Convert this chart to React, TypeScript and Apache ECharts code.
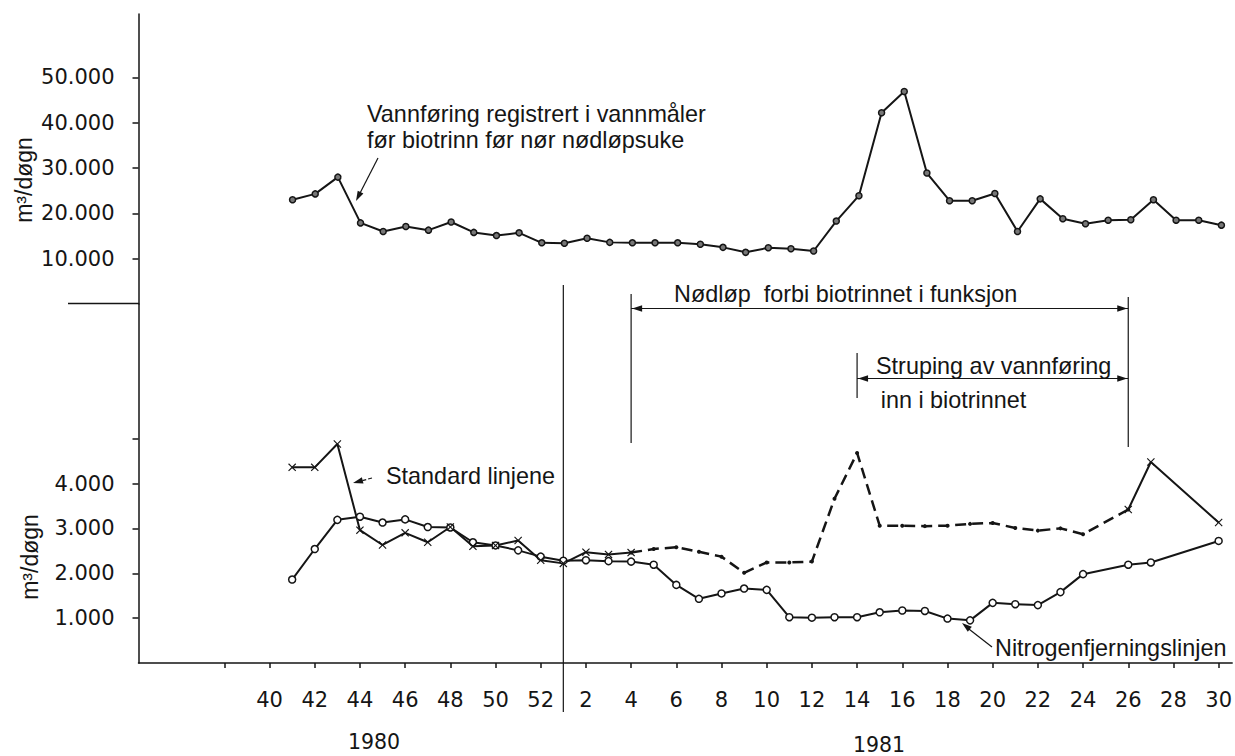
import React, { useEffect, useRef } from 'react';
import * as echarts from 'echarts';

// Week labels (1980 weeks 41-52, then 1981 weeks 1-30)
const weeks = ['41', '42', '43', '44', '45', '46', '47', '48', '49', '50', '51', '52',
  '1', '2', '3', '4', '5', '6', '7', '8', '9', '10', '11', '12', '13', '14', '15',
  '16', '17', '18', '19', '20', '21', '22', '23', '24', '25', '26', '27', '28', '29', '30'];

// Vannføring (m3/døgn), upper panel
const flow = [23000, 24300, 28000, 17900, 16000, 17100, 16300, 18100, 15800, 15100, 15700, 13500,
  13400, 14500, 13600, 13500, 13500, 13500, 13200, 12500, 11400, 12400, 12200, 11700, 18300, 23900, 42200,
  46900, 28900, 22800, 22800, 24400, 16000, 23200, 18800, 17700, 18500, 18600, 23000, 18500, 18500, 17400];

// Nitrogenfjerningslinjen (m3/døgn), lower panel
const nitrogen = [1860, 2540, 3190, 3260, 3130, 3200, 3030, 3020, 2690, 2620, 2510, 2370,
  2280, 2290, 2270, 2260, 2190, 1740, 1430, 1550, 1660, 1630, 1020, 1010, 1020, 1020, 1130,
  1170, 1160, 990, 950, 1340, 1310, 1290, 1580, 1980, null, 2190, 2240, null, null, 2720];

// Standard linjene (m3/døgn), lower panel
const standard = [4360, 4360, 4880, 2960, 2630, 2900, 2690, 3030, 2600, 2620, 2730, 2290,
  2220, 2470, 2420, 2460, 2540, 2580, 2480, 2370, 2010, 2240, 2240, 2260, 3660, 4680, 3060,
  3060, 3050, 3060, 3100, 3120, 3010, 2950, 3000, 2870, null, 3420, 4480, null, null, 3130];

const dashedFromWeek = '4';
const dashedToWeek = '26';
const strupingFromWeek = '14';
const yearStartWeek = '1';

const upperTicks = [10000, 20000, 30000, 40000, 50000];
const lowerTicks = [1000, 2000, 3000, 4000, 5000];
const lowerLabels = [1000, 2000, 3000, 4000];

const INK = '#151515';
const NUM_FONT = 'DejaVu Sans';
const TXT_FONT = 'Liberation Sans';

const pos = (i: number) => i + 1;
const weekPos = (w: string) => pos(weeks.indexOf(w));
const weekLabel = (v: number) => (v <= 12 ? String(40 + v) : String(v - 12));
const thousands = (v: number) => `${Math.round(v / 1000)}.000`;

const pairs = (arr: (number | null)[], from = 0, to = arr.length - 1) =>
  arr
    .map((v, i) => [pos(i), v] as [number, number | null])
    .slice(from, to + 1)
    .filter((p) => p[1] != null);

const CROSS = 'path://M0,1L1,0L5,4L9,0L10,1L6,5L10,9L9,10L5,6L1,10L0,9L4,5Z';

export default function App() {
  const ref = useRef<HTMLDivElement>(null);

  useEffect(() => {
    if (!ref.current) return;
    const chart = echarts.init(ref.current, null, { renderer: 'svg' });

    const xTicks: number[] = [];
    for (let v = -2; v <= 42; v += 2) xTicks.push(v);
    const xLabels = xTicks.filter((v) => v >= 0);

    const dFrom = weeks.indexOf(dashedFromWeek);
    const dTo = weeks.indexOf(dashedToWeek);

    const xBase = {
      type: 'value' as const,
      min: -5.8,
      max: 42.6,
      splitLine: { show: false },
    };

    const yLabel = {
      formatter: thousands,
      color: INK,
      fontFamily: NUM_FONT,
      fontSize: 21,
      margin: 24,
    };

    chart.setOption({
      animation: false,
      backgroundColor: '#ffffff',
      grid: [
        { left: 138.5, right: 0, top: 14, height: 290 },
        { left: 138.5, right: 0, top: 304, height: 359 },
      ],
      xAxis: [
        { ...xBase, gridIndex: 0, show: false },
        {
          ...xBase,
          gridIndex: 1,
          axisLine: { onZero: false, lineStyle: { color: INK, width: 1.5 } },
          axisTick: { show: true, length: 5, customValues: xTicks, lineStyle: { color: INK, width: 1.5 } },
          axisLabel: {
            customValues: xLabels,
            formatter: (v: number) => weekLabel(v),
            color: INK,
            fontFamily: NUM_FONT,
            fontSize: 21,
            margin: 26,
          },
        },
      ],
      yAxis: [
        {
          type: 'value',
          gridIndex: 0,
          min: 0,
          max: 64000,
          splitLine: { show: false },
          axisLine: { show: true, onZero: false, lineStyle: { color: INK, width: 1.5 } },
          axisTick: { show: true, length: 6, customValues: upperTicks, lineStyle: { color: INK, width: 1.5 } },
          axisLabel: { ...yLabel, customValues: upperTicks },
        },
        {
          type: 'value',
          gridIndex: 1,
          min: 0,
          max: 8000,
          splitLine: { show: false },
          axisLine: { show: true, onZero: false, lineStyle: { color: INK, width: 1.5 } },
          axisTick: { show: true, length: 6, customValues: lowerTicks, lineStyle: { color: INK, width: 1.5 } },
          axisLabel: { ...yLabel, customValues: lowerLabels },
        },
      ],
      series: [
        {
          name: 'Vannføring',
          type: 'line',
          xAxisIndex: 0,
          yAxisIndex: 0,
          data: pairs(flow),
          symbol: 'circle',
          symbolSize: 6,
          lineStyle: { color: INK, width: 2 },
          itemStyle: { color: '#777', borderColor: INK, borderWidth: 1.5 },
        },
        {
          name: 'Nitrogenfjerningslinjen',
          type: 'line',
          xAxisIndex: 1,
          yAxisIndex: 1,
          data: pairs(nitrogen),
          symbol: 'circle',
          symbolSize: 7,
          lineStyle: { color: INK, width: 2 },
          itemStyle: { color: '#fff', borderColor: INK, borderWidth: 1.5 },
          z: 3,
        },
        {
          name: 'Standard linjene',
          type: 'line',
          xAxisIndex: 1,
          yAxisIndex: 1,
          data: pairs(standard, 0, dFrom),
          symbol: CROSS,
          symbolSize: 8,
          lineStyle: { color: INK, width: 2 },
          itemStyle: { color: INK, borderWidth: 0 },
        },
        {
          name: 'Standard linjene (nødløp)',
          type: 'line',
          xAxisIndex: 1,
          yAxisIndex: 1,
          data: pairs(standard, dFrom, dTo),
          symbol: 'circle',
          symbolSize: 4,
          showSymbol: true,
          lineStyle: { color: INK, width: 2.5, type: [11, 6] },
          itemStyle: { color: INK, borderWidth: 0 },
        },
        {
          name: 'Standard linjene (etter)',
          type: 'line',
          xAxisIndex: 1,
          yAxisIndex: 1,
          data: pairs(standard, dTo),
          symbol: CROSS,
          symbolSize: 8,
          lineStyle: { color: INK, width: 2 },
          itemStyle: { color: INK, borderWidth: 0 },
        },
      ],
    });

    const px = (w: string) => chart.convertToPixel({ xAxisIndex: 1 }, weekPos(w)) as number;
    const xYear = px(yearStartWeek);
    const xW4 = px(dashedFromWeek);
    const xW14 = px(strupingFromWeek);
    const xW26 = px(dashedToWeek);

    const line = (x1: number, y1: number, x2: number, y2: number, w = 1.2, dash?: number[]) => ({
      type: 'line',
      shape: { x1, y1, x2, y2 },
      style: { stroke: INK, lineWidth: w, lineDash: dash },
      silent: true,
    });
    const head = (tx: number, ty: number, fx: number, fy: number, len = 10, half = 3.2) => {
      const dx = tx - fx;
      const dy = ty - fy;
      const d = Math.hypot(dx, dy) || 1;
      const ux = dx / d;
      const uy = dy / d;
      const bx = tx - ux * len;
      const by = ty - uy * len;
      return {
        type: 'polygon',
        shape: { points: [[tx, ty], [bx - uy * half, by + ux * half], [bx + uy * half, by - ux * half]] },
        style: { fill: INK },
        silent: true,
      };
    };
    const text = (t: string, x: number, y: number, size = 23.4, font = TXT_FONT, align = 'left') => ({
      type: 'text',
      x,
      y,
      style: {
        text: t,
        fill: INK,
        font: `${size}px "${font}"`,
        textAlign: align,
        textVerticalAlign: 'middle',
      },
      silent: true,
    });

    const nodY = 308.5;
    const strY = 378.5;

    chart.setOption({
      graphic: [
        line(68, 303.5, 139, 303.5, 1.5),
        line(xYear, 285, xYear, 712, 1.2),
        // Nødløp bracket
        line(xW4, 294, xW4, 443, 1.2),
        line(xW26, 297, xW26, 447, 1.2),
        line(xW4, nodY, xW26, nodY, 1),
        head(xW4 + 1, nodY, xW4 + 20, nodY),
        head(xW26 - 1, nodY, xW26 - 20, nodY),
        // Struping bracket
        line(xW14, 353, xW14, 398, 1.2),
        line(xW14, strY, xW26, strY, 1),
        head(xW14 + 1, strY, xW14 + 20, strY),
        head(xW26 - 1, strY, xW26 - 20, strY),
        // pointer arrows
        line(378, 158, 358, 197, 1.2),
        head(356, 201, 378, 158),
        line(372, 478, 357, 482, 1.2, [4, 2]),
        head(353, 483, 372, 478),
        line(992, 647, 965, 626, 1.2),
        head(962, 623, 992, 647),
        // texts
        text('Vannføring registrert i vannmåler', 367, 113.5),
        text('før biotrinn før nør nødløpsuke', 367, 140),
        text('Nødløp  forbi biotrinnet i funksjon', 674, 293.5),
        text('Struping av vannføring', 876, 365.8),
        text('inn i biotrinnet', 880.7, 400),
        text('Standard linjene', 386, 475.8),
        text('Nitrogenfjerningslinjen', 995, 647.8),
        text('1980', 374, 741.5, 20.5, NUM_FONT, 'center'),
        text('1981', 879, 744.5, 20.5, NUM_FONT, 'center'),
        {
          type: 'text',
          x: 24,
          y: 180,
          rotation: Math.PI / 2,
          style: { text: 'm³/døgn', fill: INK, font: `23px "${TXT_FONT}"`, textAlign: 'center', textVerticalAlign: 'middle' },
          silent: true,
        },
        {
          type: 'text',
          x: 30,
          y: 557,
          rotation: Math.PI / 2,
          style: { text: 'm³/døgn', fill: INK, font: `23px "${TXT_FONT}"`, textAlign: 'center', textVerticalAlign: 'middle' },
          silent: true,
        },
      ],
    });

    return () => chart.dispose();
  }, []);

  return (
    <div
      ref={ref}
      style={{ position: 'fixed', left: 0, top: 0, width: 1235, height: 756, background: '#fff' }}
    />
  );
}
